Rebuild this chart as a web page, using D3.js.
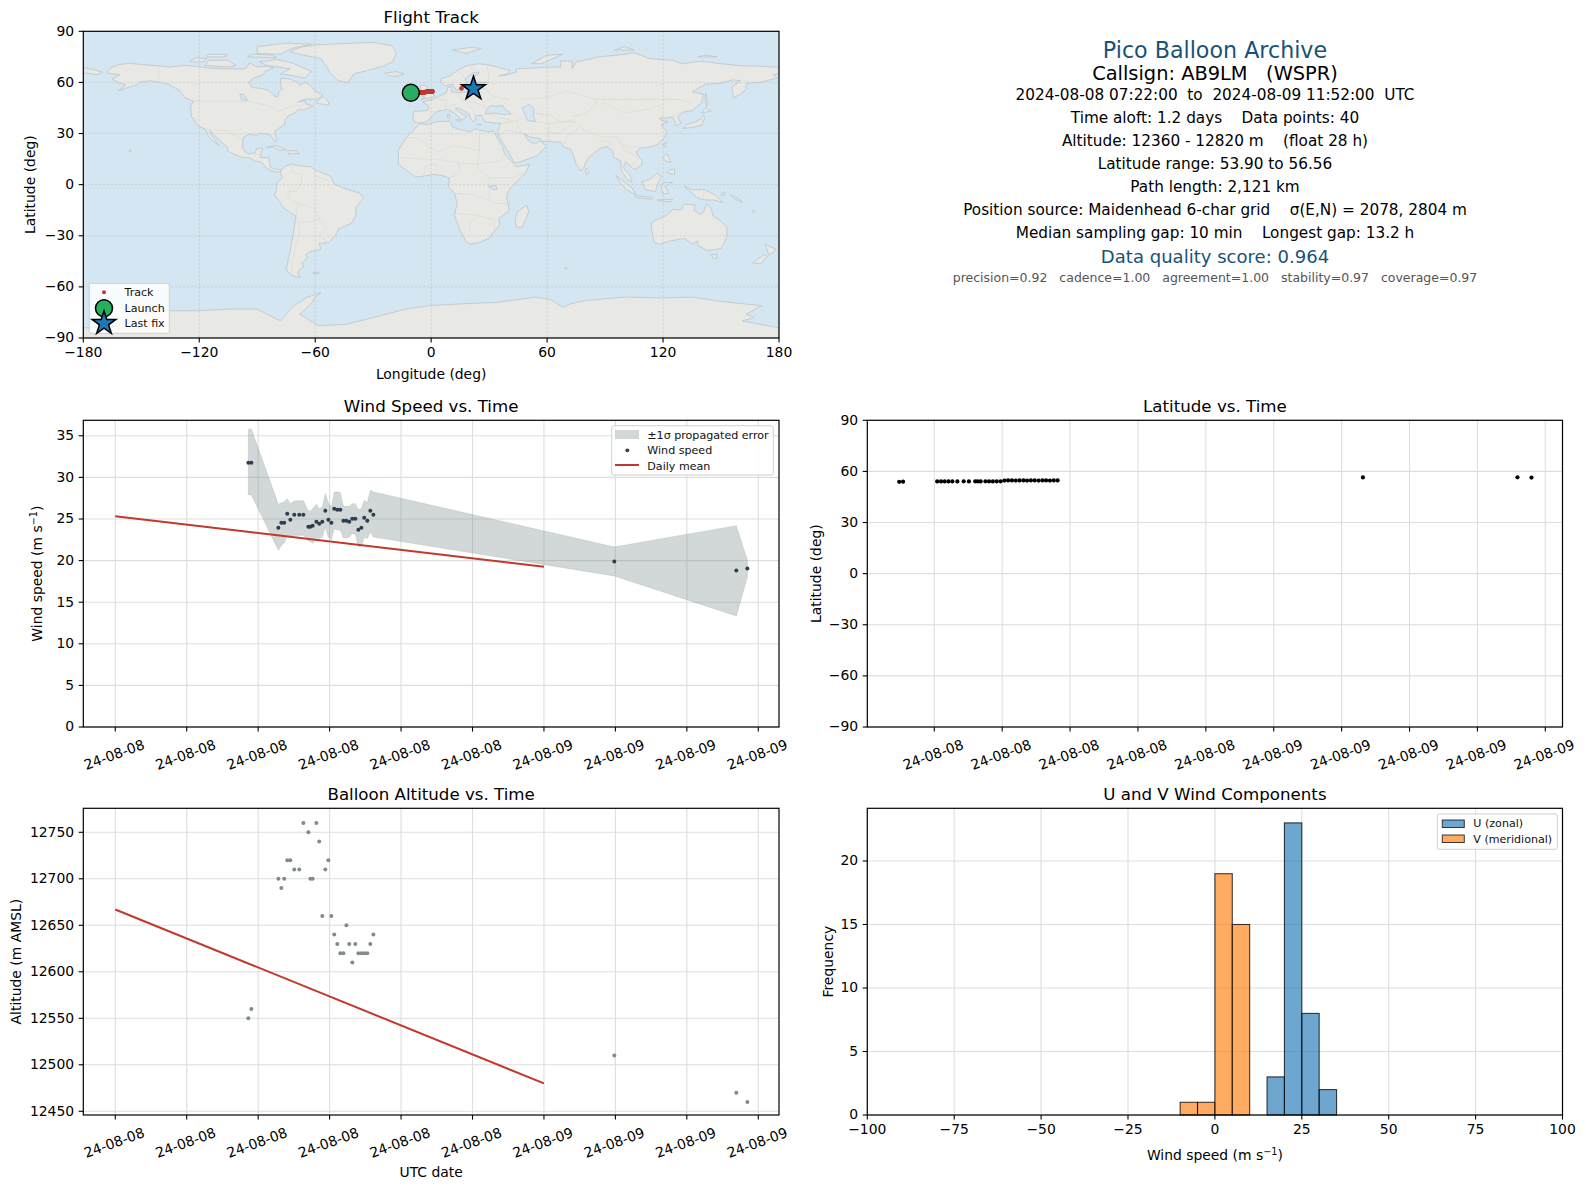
<!DOCTYPE html>
<html>
<head>
<meta charset="utf-8">
<script src="https://cdn.jsdelivr.net/npm/d3@7"></script>
<style>
   html, body { margin: 0; padding: 0; background: #fff; }
   svg { display: block; font-family: "DejaVu Sans", sans-serif; fill: #000; }
   .axis .domain { stroke: none; }
   .axis line { stroke: #000; stroke-width: 1.1; }
   .axis text { font-size: 13.9px; fill: #000; font-family: "DejaVu Sans", sans-serif; }
   .grid line { stroke: #dedede; stroke-width: 1.1; }
   .frame { fill: none; stroke: #000; stroke-width: 1.2; }
   .title { font-size: 16.67px; text-anchor: middle; }
   .label { font-size: 13.9px; text-anchor: middle; }
   .legendBox { fill: #fff; fill-opacity: 0.85; stroke: #d0d0d0; stroke-width: 1; }
   .legendText { font-size: 11.1px; fill: #111; }
   .info { text-anchor: middle; font-size: 15.28px; white-space: pre; }
</style>
</head>
<body>
<svg id="chart" width="1586" height="1189"></svg>
<script>
const WIDTH = 1586, HEIGHT = 1189;

// hours since 2024-08-08 00:00 UTC
const flightHours = [7.45, 7.62, 9.13, 9.30, 9.46, 9.63, 9.80, 10.02, 10.30, 10.53, 10.81, 10.92, 11.05,
   11.26, 11.42, 11.59, 11.76, 11.93, 12.10, 12.26, 12.43, 12.60, 12.77, 12.94, 13.10, 13.27, 13.44,
   13.61, 13.78, 13.94, 14.11, 14.28, 14.45, 27.94, 34.77, 35.39];
const windSpeed = [31.77, 31.77, 23.96, 24.56, 24.56, 25.64, 24.92, 25.52, 25.52, 25.52, 24.08, 24.08, 24.2,
   24.68, 24.44, 24.68, 26.0, 24.92, 24.56, 26.24, 26.12, 26.12, 24.8, 24.8, 24.68, 25.04, 25.04,
   23.72, 23.96, 25.16, 24.8, 26.0, 25.52, 19.88, 18.8, 19.04];
const windUpper = [35.78, 35.78, 26.76, 26.96, 27.08, 27.44, 26.84, 27.16, 27.2, 27.2, 25.92, 25.96, 26.24,
   26.76, 26.24, 26.44, 28.05, 26.92, 26.44, 28.25, 28.25, 28.17, 26.52, 26.52, 26.52, 26.84, 26.84,
   26.12, 26.24, 27.24, 26.92, 28.45, 28.25, 21.64, 24.2, 20.04];
const windLower = [27.89, 27.89, 21.23, 21.84, 22.12, 23.04, 22.72, 23.04, 23.04, 23.04, 22.36, 22.32, 22.04,
   22.76, 22.64, 22.84, 24.04, 22.76, 22.52, 23.84, 23.72, 23.64, 22.72, 22.72, 22.84, 23.24, 23.16,
   21.64, 21.72, 22.84, 22.64, 23.44, 22.84, 18.15, 13.35, 18.03];
const altitude = [12550, 12560, 12700, 12690, 12700, 12720, 12720, 12710, 12710, 12760, 12750, 12700, 12700,
   12760, 12740, 12660, 12710, 12720, 12660, 12640, 12630, 12620, 12620, 12650, 12630, 12610, 12630,
   12620, 12620, 12620, 12620, 12630, 12640, 12510, 12470, 12460];
const latitude = [53.9, 54.0, 54.1, 54.1, 54.1, 54.1, 54.1, 54.1, 54.2, 54.1, 54.2, 54.1, 54.1,
   54.2, 54.1, 54.1, 54.2, 54.2, 54.6, 54.7, 54.7, 54.6, 54.7, 54.7, 54.6, 54.7, 54.7,
   54.6, 54.7, 54.7, 54.6, 54.7, 54.7, 56.5, 56.56, 56.4];
const longitude = [-10.5, -10.1, -7.9, -7.5, -7.2, -6.9, -6.6, -6.2, -5.8, -5.5, -5.1, -4.8, -4.5,
   -4.2, -3.9, -3.6, -3.2, -2.9, -2.5, -2.2, -1.8, -1.4, -1.0, -0.7, -0.4, -0.1, 0.1,
   0.3, 0.4, 0.5, 0.6, 0.6, 0.6, 15.7, 20.8, 21.9];

const meanHours = [0, 24];
const meanWind = [25.34, 19.27];
const meanAltitude = [12667, 12480];

const windTickHours = [0, 4, 8, 12, 16, 20, 24, 28, 32, 36];
const latTickHours = [9, 12, 15, 18, 21, 24, 27, 30, 33, 36];

const uBinEdges = [15, 20, 25, 30, 35];
const uCounts = [3, 23, 8, 2];
const vBinEdges = [-10, -5, 0, 5, 10];
const vCounts = [1, 1, 19, 15];

const infoLines = [
   '2024-08-08 07:22:00  to  2024-08-09 11:52:00  UTC',
   'Time aloft: 1.2 days    Data points: 40',
   'Altitude: 12360 - 12820 m    (float 28 h)',
   'Latitude range: 53.90 to 56.56',
   'Path length: 2,121 km',
   'Position source: Maidenhead 6-char grid    \u03c3(E,N) = 2078, 2804 m',
   'Median sampling gap: 10 min    Longest gap: 13.2 h'
];

// coarse coastlines, [lon, lat]
const land = [
   // north america
   [[-168,65.5],[-166,68.3],[-162,70.3],[-156.5,71.3],[-150,70.5],[-141,69.7],[-135,69],[-128,70],[-124,69.7],[-115,68.5],[-108,68],[-101,68],[-96,68],[-94,71.5],[-90,69],[-85,69.5],[-81.5,68.5],[-86,66.5],[-87,64.5],[-92,62.5],[-94.5,60],[-92.5,57],[-88,56.5],[-84,55.2],[-82,53],[-80,51.3],[-79,52],[-79,54.5],[-77,56],[-78,58.5],[-78,62.5],[-73,62],[-70,60.5],[-68,58.3],[-65,60],[-62,57.5],[-60,55],[-56,52.5],[-59,50.2],[-65,50.2],[-69,48.5],[-65,49],[-65,47.5],[-61,46],[-65.5,44],[-69,44],[-70.5,42],[-74,40.5],[-75.5,38],[-76,35],[-79,33],[-81,31],[-80,27],[-80.5,25.2],[-82,27],[-83,29],[-85,29.7],[-89,30.2],[-90,29],[-94,29.5],[-97,28],[-97.5,25],[-97.8,22],[-96,19],[-94,18],[-91,18.7],[-90.5,21],[-87,21.5],[-88,18],[-88.5,16],[-84,15.8],[-83.5,12],[-83,10],[-80,9],[-77.5,8.7],[-78,7.5],[-80,7.3],[-83,8.2],[-85.5,10],[-87.5,13],[-91.5,14],[-94.5,16],[-97,15.8],[-101.5,17.5],[-105,19.5],[-105.5,22],[-109,25.5],[-112.5,29.5],[-114.7,31.5],[-112.5,27],[-109.8,23],[-112,24.7],[-115,28],[-117,32.5],[-120.5,34.5],[-124,40],[-124.5,46],[-123,49],[-127.5,51],[-130,55],[-135,58.5],[-140,60],[-146,61],[-151,60],[-152,58.5],[-157,57],[-162,55],[-158,58.5],[-162,60],[-165,62],[-161,64.5]],
   // greenland and arctic canada
   [[-73,78],[-68,80.5],[-60,82],[-45,82.8],[-30,83.5],[-20,81.5],[-18,77],[-20,72],[-25,69.5],[-33,67],[-40,65],[-43,60],[-48,61],[-52,65],[-54,69],[-57,74],[-66,76]],
   [[-80,73.5],[-72,71.5],[-67,69],[-62,66.5],[-65,62.5],[-72,64],[-78,65],[-73,68],[-85,70],[-89,72]],
   [[-117,70],[-105,69],[-101,70],[-105,73],[-115,73]],
   [[-125,72],[-118,72],[-116,74],[-122,74.5]],
   [[-90,77],[-78,76.5],[-72,80],[-62,82.5],[-75,83],[-90,81]],
   [[-95,75],[-80,74.5],[-82,76],[-93,76.5]],
   [[-116,75],[-106,75],[-106,76.5],[-116,76.5]],
   [[-59,47.7],[-53,46.7],[-53,48.5],[-56,51.5],[-59,49]],
   [[-85,22],[-80,23],[-75,20.5],[-78,20],[-82,22]],
   [[-74,20],[-69,19.8],[-68.5,18.3],[-74,18]],
   [[-156.2,20.7],[-155,19.8],[-155.6,19],[-156,19.6]],
   // south america
   [[-77.5,8.5],[-75,11],[-72,12],[-68,11],[-62,10.5],[-60,8.5],[-52,5],[-50,0],[-44,-2.5],[-37,-5],[-35,-8],[-39,-13.5],[-39,-18],[-41,-22.5],[-48,-26],[-49,-29],[-53,-34],[-58,-34.5],[-57,-38],[-62,-39],[-65,-41],[-64,-43],[-67,-46],[-66,-48],[-69,-51],[-68,-54.5],[-72,-53.5],[-75,-50],[-73.5,-42],[-71.5,-30],[-70,-18.5],[-76,-14],[-81,-6],[-80,-2.5],[-80,1],[-77,4],[-78,7.5]],
   [[-61,-51.5],[-58,-51.3],[-58.5,-52.3],[-61,-52.2]],
   // africa
   [[-6,35.8],[-2,35.2],[3,37],[10,37.3],[11,33.8],[15,32.3],[20,31],[23,32.7],[29,31],[32.5,31.3],[34,28],[37,22],[38,18],[43,12],[44,10.5],[51,12],[49,7],[44,1.5],[40,-3.5],[39,-7],[40.5,-15],[35,-20],[35.5,-24],[32.7,-27],[30,-31.5],[25,-34],[20,-34.8],[18,-33],[15,-27],[12,-18],[13.5,-11],[12,-5],[9,-1],[9.5,4],[5,5.5],[1,6],[-4,5],[-8,4.5],[-13,8.5],[-17,12],[-17,20],[-13,27.5],[-9.5,31.5]],
   [[49.5,-12],[50.5,-16],[47,-25],[44,-25],[43.5,-21],[44.5,-16]],
   // eurasia
   [[-9,37],[-9.5,39],[-9,43],[-2,43.5],[-1,46],[-4.5,48.5],[1,50],[4,52],[8,54],[8.5,57],[10.5,57.5],[10.5,54.5],[14,54],[19,54.5],[21,57],[24,57.5],[24,59.5],[30,60],[23,60],[21,61],[22,63],[25,65.5],[22,65.8],[17.5,62],[18.5,60],[16,56.5],[13,55.5],[11,59],[7,58],[5,60],[5,62],[10,64],[14,67.5],[19,70],[25,71],[31,70],[41,67],[40,65],[35,64],[38,64],[44,66],[44,68],[54,68.5],[60,69],[67,69],[67,72.5],[73,72.5],[73,68],[75,72],[81,73.5],[87,75],[100,76.5],[105,77.5],[113,74],[125,73],[130,71],[140,72.5],[150,71],[160,69.7],[170,69.5],[178,69],[180,68.8],[180,65],[177,64.5],[179,62.5],[170,60],[163,59.5],[163,56],[160,53],[156.5,51],[155.5,57],[160,61],[156,61.5],[150,59.5],[142,59],[135,54.5],[141,53],[140,48],[135,43.5],[130,42.5],[127.5,39.5],[129.5,36],[126.5,34.5],[126,37.5],[125,39.7],[121.5,39],[118,39],[119.5,37.5],[122.5,37],[119,35],[122,31],[121,28],[117,23.5],[113,22],[108,21.5],[106,19],[109,14],[109,11.5],[105,8.7],[103,11],[100.5,13.5],[99.5,10],[103,5],[104,1.5],[101.5,3],[98.5,8],[98,14],[94.5,16],[94,19.5],[91,22.5],[87,21],[82,16.5],[80,13],[79,10],[77.5,8],[75,12],[73,19],[72,21],[69,22],[67,25],[61,25.3],[57,25.5],[56.5,27],[51,28],[48,30],[50,26.5],[51.5,25],[54,24],[56.3,26],[59.5,22.5],[55,17],[45,13],[43,13],[39,21],[35,28],[34.5,31.5],[36,36],[32,36.2],[27.5,37],[26.5,39.5],[26,40.8],[23,40.5],[23,38],[22,36.7],[20,39.5],[19.5,41.7],[14,45],[12.5,44.5],[16,41.5],[18.5,40],[16,38],[12,42],[8.5,44.2],[3,43],[0,39.5],[-2,37],[-5.5,36]],
   [[-180,68.8],[-175,67.5],[-170,66],[-173,64.5],[-178,65.5],[-180,65]],
   [[-5.5,50],[1.3,51.2],[1.5,52.8],[-1.5,55],[-2,57.5],[-3.5,58.6],[-6,58],[-5,55],[-3,54],[-5,52],[-3,51.3]],
   [[-10,52],[-6,52.2],[-6,54.5],[-8,55.2],[-10,54]],
   [[-24,65.5],[-18,66.3],[-14,65],[-18,63.5],[-22.5,64]],
   [[11,79],[20,80.5],[26,80],[18,77]],
   [[52,71],[57,71],[68,76.5],[60,76]],
   [[95,79],[105,79],[100,81]],
   [[138,75],[148,75],[142,76]],
   [[142,54],[143,49],[142.5,46],[141.8,50]],
   [[130,33],[135,33.5],[140,35],[141.5,39],[141,41],[139.5,38.5],[136,36.5],[132,35]],
   [[140,42],[145,43.3],[142,45.3]],
   [[120.2,23],[121,22],[122,25],[121,25]],
   [[120,16],[122,18.5],[124,13],[121,14]],
   [[122,7],[126,6],[126,9.5],[123.5,8.5]],
   [[80,9.7],[82,7.5],[80.5,6],[79.8,8]],
   [[12.5,38],[15.5,38],[15,36.7]],
   [[8.5,41],[9.7,41],[9.5,39],[8.5,39]],
   [[23.5,35.5],[26,35.3],[25,35]],
   // indonesia and pacific
   [[109,1.5],[113,3],[117,7],[119,5],[117.5,1],[116,-4],[111,-3]],
   [[95.5,5.5],[104,-2],[106,-6],[101,-3],[98,1]],
   [[105.5,-6.5],[114.5,-7.5],[114.5,-8.6],[106,-7.7]],
   [[120,1],[125,1.5],[121,-1],[123,-5],[120,-5.5],[119,-2]],
   [[131,-1],[135,-3],[141,-2.7],[147,-6],[151,-10.5],[146,-9],[142,-9],[138,-8],[134,-4]],
   [[117,-9],[125,-8.5],[124,-10],[118,-9.5]],
   [[150,-5.5],[152,-4.2],[152,-6],[150,-6.3]],
   [[155,-6],[160,-9],[161,-10.5],[157,-8.5]],
   [[166,-15],[167.5,-15.5],[167,-16.5]],
   // australia and new zealand
   [[114,-22],[114,-26],[115.5,-34],[118,-35],[124,-33],[131,-31.5],[135,-34.8],[138,-33],[138,-35.7],[143,-38.7],[147,-38],[150,-37.5],[153,-31],[153,-25],[149,-20.5],[146,-18.5],[145,-14.5],[142.5,-11],[141,-16],[139.5,-17.5],[136,-15],[136.8,-12],[131,-11.5],[129,-15],[125,-14.5],[122,-18],[117,-20.5]],
   [[145,-41],[148,-41],[147.5,-43.5],[146,-43.5]],
   [[173,-35],[178.5,-38],[175,-41.5],[174,-39]],
   [[172,-41],[174,-42],[170.5,-46.5],[166.5,-46]],
   [[69,-49],[70.3,-49],[70,-49.7]],
   // antarctica
   [[-180,-84],[-165,-84],[-155,-79],[-147,-75],[-135,-74],[-120,-74],[-104,-73],[-90,-73],[-78,-80],[-75,-76],[-71,-71],[-64,-66],[-57,-63.5],[-60,-66],[-62,-70],[-68,-76],[-58.6,-82.7],[-44,-82],[-30,-78],[-13,-73],[-1,-71],[15,-70],[35,-69],[54,-66],[62,-67.5],[68,-72],[72,-70],[80,-68],[100,-66],[120,-66.5],[135,-66],[150,-68.5],[162,-70],[171,-71],[163,-76],[167,-78],[161,-80],[180,-84],[180,-90],[-180,-90]]
];

// seas drawn back over the land
const inlandSeas = [
   [[28,41.5],[33,42],[38,41],[41.5,41.7],[38,44.5],[37,46.5],[33,46],[31,46.5],[28.5,44]],
   [[47,45],[51,47],[53,45],[53,40],[54,37],[50,37.5],[49,40]],
   [[-95,49.5],[-97,53],[-99,53],[-98,50]],
   [[29.5,-1],[33.5,-0.5],[34,-3],[32,-2.8]]
];

const borders = [
   [[-141,69.7],[-141,60]], [[-123,49],[-95,49],[-83,46],[-79,43],[-75,45],[-69,47],[-67,45]],
   [[-117,32.5],[-106,31.7],[-97.5,26]], [[-92,14.5],[-91,17.5],[-88,18]],
   [[-70,-18.5],[-69,-22],[-68,-28],[-70,-35],[-72,-45],[-72,-52]], [[-70,-18.5],[-69,-11],[-74,-8],[-74,-4],[-70,-4],[-67,1]],
   [[-72,12],[-72,7],[-67,6],[-67,1]], [[-60,8.5],[-60,5],[-52,2]], [[-58,-20],[-54,-25],[-58,-30],[-53,-34]], [[-69,-11],[-60,-14],[-58,-20],[-62,-22],[-68,-22]],
   [[-13,27.5],[-8.7,27.5],[-4,25],[3,19],[12,23],[25,20],[25,31]], [[-17,16],[-5,15],[3,15],[14,13],[24,12],[36,14],[38,18]],
   [[9.5,4],[15,8],[14,13]], [[25,20],[24,10],[30,4],[34,4],[42,4],[49,7]], [[12,-5],[22,-6],[30,-9],[34,-11],[40.5,-11]],
   [[13.5,-17],[24,-18],[33,-21],[32.7,-27]], [[20,-28],[20,-22],[24,-18]], [[-4,5],[-3,11],[3,12],[2.5,6]], [[30,4],[30,-9]],
   [[-2,43.5],[3,42.5]], [[2,51],[8,49],[7,44]], [[6,51],[7,54]], [[14,54],[15,51],[18,49],[24,48],[29,45]], [[24,57.5],[28,56],[32,52],[40,50],[38,47]],
   [[29,70],[30,62],[28,60]], [[20,69],[25,66]], [[14,67],[18,62]], [[13,47],[7,46]],[[20,46],[23,41]],
   [[28,41.5],[44,37],[47,30]], [[36,36],[42,37]], [[35,29],[39,32],[47,30],[48,30]], [[44,37],[46,39],[49,38]], [[61,25.3],[61,31],[61,36],[54,37]], [[61,36],[71,37],[75,37]],
   [[61,31],[66,30],[71,34],[75,37]], [[53,42],[61,41],[67,37],[74,38]], [[47,50],[60,51],[70,55],[85,50]], [[53,45],[56,41]], [[73,40],[80,42],[85,47],[85,50]],
   [[85,50],[98,50],[107,50],[118,50],[127,50],[135,48]], [[88,49],[100,42],[111,44],[119,47]], [[75,37],[79,32],[88,28],[97,28],[98,24],[102,22],[106,22.5],[108,21.5]],
   [[69,24],[71,29],[75,32],[78,35]], [[88,26],[92,25],[94,20]], [[98,24],[100,20],[105,18],[107,15],[103,11]], [[124,40],[130,42.5]],
   [[141,-2.7],[141,-9]], [[109,1.5],[115,4],[117,4]]
];

const svg = d3.select('#chart');
const fmt = d3.format('d');
const minus = (s) => String(s).replace('-', '\u2212');
const hourToDate = (h) => new Date(Date.UTC(2024, 7, 8) + h * 3600000);
const dateFmt = d3.utcFormat('%y-%m-%d');

function makePanel(box) {
   let panel = {};
   panel.box = box;
   panel.root = svg.append('g');
   panel.grid = panel.root.append('g').attr('class', 'grid');
   panel.plot = panel.root.append('g');
   return panel;
}

function drawGrid(panel, x, y, xTicks, yTicks) {
   let box = panel.box;
   panel.grid.selectAll('.gx').data(xTicks).join('line').attr('class', 'gx')
      .attr('x1', d => x(d)).attr('x2', d => x(d)).attr('y1', box.top).attr('y2', box.bottom);
   panel.grid.selectAll('.gy').data(yTicks).join('line').attr('class', 'gy')
      .attr('x1', box.left).attr('x2', box.right).attr('y1', d => y(d)).attr('y2', d => y(d));
}

function drawAxes(panel, x, y, xTicks, yTicks, xFormat, yFormat, rotate) {
   let box = panel.box;
   let xAxis = panel.root.append('g').attr('class', 'axis')
      .attr('transform', `translate(0,${box.bottom})`)
      .call(d3.axisBottom(x).offset(0).tickValues(xTicks).tickSize(4.6).tickPadding(4.6).tickFormat(xFormat));
   panel.root.append('g').attr('class', 'axis')
      .attr('transform', `translate(${box.left},0)`)
      .call(d3.axisLeft(y).offset(0).tickValues(yTicks).tickSize(4.6).tickPadding(4.6).tickFormat(yFormat));
   if (rotate) {
      xAxis.selectAll('text')
         .attr('text-anchor', 'middle')
         .attr('dy', null)
         .attr('y', 0)
         .attr('transform', 'translate(-0.8,28.5) rotate(-20)')
         .attr('dominant-baseline', 'middle');
   }
   panel.root.append('rect').attr('class', 'frame')
      .attr('x', box.left).attr('y', box.top)
      .attr('width', box.right - box.left).attr('height', box.bottom - box.top);
}

function addTitle(panel, text) {
   let box = panel.box;
   panel.root.append('text').attr('class', 'title')
      .attr('x', (box.left + box.right) / 2).attr('y', box.top - 8).text(text);
}

function addXLabel(panel, text, yPos, sup) {
   let box = panel.box;
   let label = panel.root.append('text').attr('class', 'label')
      .attr('x', (box.left + box.right) / 2).attr('y', yPos).text(text);
   if (sup) addUnit(label);
}

function addYLabel(panel, text, xPos, sup) {
   let box = panel.box;
   let label = panel.root.append('text').attr('class', 'label')
      .attr('transform', `translate(${xPos},${(box.top + box.bottom) / 2}) rotate(-90)`).text(text);
   if (sup) addUnit(label);
}

function addUnit(label) {
   label.append('tspan').attr('dy', -4.8).style('font-size', '9.7px').text('\u22121');
   label.append('tspan').attr('dy', 4.8).text(')');
}

function drawMap() {
   let box = {left: 83.3, right: 779, top: 31.3, bottom: 338};
   let panel = makePanel(box);
   let x = d3.scaleLinear().domain([-180, 180]).range([box.left, box.right]);
   let y = d3.scaleLinear().domain([-90, 90]).range([box.bottom, box.top]);
   let lonTicks = d3.range(-180, 181, 60), latTicks = d3.range(-90, 91, 30);
   let ring = d3.line().x(d => x(d[0])).y(d => y(d[1])).curve(d3.curveLinearClosed);
   let path = d3.line().x(d => x(d[0])).y(d => y(d[1]));

   svg.append('clipPath').attr('id', 'mapClip').append('rect')
      .attr('x', box.left).attr('y', box.top)
      .attr('width', box.right - box.left).attr('height', box.bottom - box.top);
   let map = panel.plot.append('g').attr('clip-path', 'url(#mapClip)');
   map.append('rect').attr('x', box.left).attr('y', box.top)
      .attr('width', box.right - box.left).attr('height', box.bottom - box.top)
      .attr('fill', '#d4e6f1');
   map.selectAll('.land').data(land).join('path').attr('class', 'land')
      .attr('d', ring).attr('fill', '#e8e8e4').attr('stroke', '#bcc5c9').attr('stroke-width', 0.8);
   map.selectAll('.sea').data(inlandSeas).join('path').attr('class', 'sea')
      .attr('d', ring).attr('fill', '#d4e6f1').attr('stroke', '#bcc5c9').attr('stroke-width', 0.8);
   map.selectAll('.border').data(borders).join('path').attr('class', 'border')
      .attr('d', path).attr('fill', 'none').attr('stroke', '#d8d8d4').attr('stroke-width', 0.6);
   map.selectAll('.gx').data(lonTicks).join('line').attr('class', 'gx')
      .attr('x1', d => x(d)).attr('x2', d => x(d)).attr('y1', box.top).attr('y2', box.bottom)
      .attr('stroke', '#aaa').attr('stroke-opacity', 0.6).attr('stroke-width', 0.6).attr('stroke-dasharray', '2,2');
   map.selectAll('.gy').data(latTicks).join('line').attr('class', 'gy')
      .attr('x1', box.left).attr('x2', box.right).attr('y1', d => y(d)).attr('y2', d => y(d))
      .attr('stroke', '#aaa').attr('stroke-opacity', 0.6).attr('stroke-width', 0.6).attr('stroke-dasharray', '2,2');

   map.selectAll('.track').data(flightHours).join('circle').attr('class', 'track')
      .attr('cx', (d, i) => x(longitude[i])).attr('cy', (d, i) => y(latitude[i]))
      .attr('r', 2.3).attr('fill', '#c0392b');
   map.append('circle')
      .attr('cx', x(longitude[0])).attr('cy', y(latitude[0])).attr('r', 8.5)
      .attr('fill', '#27ae60').attr('stroke', '#000').attr('stroke-width', 1.5);
   map.append('path')
      .attr('d', d3.symbol(d3.symbolStar, 175)())
      .attr('transform', `translate(${x(longitude[35])},${y(latitude[35])})`)
      .attr('fill', '#1f77b4').attr('stroke', '#000').attr('stroke-width', 1.5);

   drawAxes(panel, x, y, lonTicks, latTicks, d => minus(d), d => minus(d), false);
   addTitle(panel, 'Flight Track');
   addXLabel(panel, 'Longitude (deg)', 379);
   addYLabel(panel, 'Latitude (deg)', 35);

   let legend = panel.root.append('g');
   legend.append('rect').attr('class', 'legendBox').attr('x', 89.3).attr('y', 283.3)
      .attr('width', 80).attr('height', 50).attr('rx', 2);
   legend.append('circle').attr('cx', 104).attr('cy', 292.3).attr('r', 2).attr('fill', '#c0392b');
   legend.append('circle').attr('cx', 104).attr('cy', 308.3).attr('r', 8.5)
      .attr('fill', '#27ae60').attr('stroke', '#000').attr('stroke-width', 1.5);
   legend.append('path').attr('d', d3.symbol(d3.symbolStar, 175)())
      .attr('transform', 'translate(104,323.3)')
      .attr('fill', '#1f77b4').attr('stroke', '#000').attr('stroke-width', 1.5);
   [['Track', 296], ['Launch', 312], ['Last fix', 326.7]].forEach(d => {
      legend.append('text').attr('class', 'legendText').attr('x', 124.5).attr('y', d[1]).text(d[0]);
   });
}

function drawInfo() {
   const cx = 1215;
   svg.append('text').attr('class', 'info').attr('x', cx).attr('y', 58.3)
      .style('font-size', '22.2px').style('fill', '#1a5276').text('Pico Balloon Archive');
   svg.append('text').attr('class', 'info').attr('x', cx).attr('y', 80)
      .style('font-size', '19.4px').text('Callsign: AB9LM   (WSPR)');
   const baselines = [100, 123.3, 146, 169, 192.3, 215.3, 238.3];
   svg.selectAll('.infoLine').data(infoLines).join('text').attr('class', 'info infoLine')
      .attr('x', cx).attr('y', (d, i) => baselines[i]).text(d => d);
   svg.append('text').attr('class', 'info').attr('x', cx).attr('y', 263.3)
      .style('font-size', '18.06px').style('fill', '#1a5276').text('Data quality score: 0.964');
   svg.append('text').attr('class', 'info').attr('x', cx).attr('y', 281.7)
      .style('font-size', '12.5px').style('fill', '#555')
      .text('precision=0.92   cadence=1.00   agreement=1.00   stability=0.97   coverage=0.97');
}

function drawWind() {
   let box = {left: 83.3, right: 779, top: 420.3, bottom: 727};
   let panel = makePanel(box);
   let x = d3.scaleUtc().domain([hourToDate(-1.79), hourToDate(37.16)]).range([box.left, box.right]);
   let y = d3.scaleLinear().domain([0, 36.86]).range([box.bottom, box.top]);
   let xTicks = windTickHours.map(hourToDate), yTicks = d3.range(0, 36, 5);
   drawGrid(panel, x, y, xTicks, yTicks);

   let band = d3.area().x((d, i) => x(hourToDate(d))).y0((d, i) => y(windLower[i])).y1((d, i) => y(windUpper[i]));
   panel.plot.append('path').attr('d', band(flightHours))
      .attr('fill', '#7f8c8d').attr('fill-opacity', 0.35).attr('stroke', '#7f8c8d').attr('stroke-opacity', 0.2);
   panel.plot.selectAll('.pt').data(flightHours).join('circle').attr('class', 'pt')
      .attr('cx', d => x(hourToDate(d))).attr('cy', (d, i) => y(windSpeed[i])).attr('r', 2).attr('fill', '#2c3e50');
   let mean = d3.line().x(d => x(hourToDate(d))).y((d, i) => y(meanWind[i]));
   panel.plot.append('path').attr('d', mean(meanHours)).attr('fill', 'none').attr('stroke', '#c0392b').attr('stroke-width', 2);

   drawAxes(panel, x, y, xTicks, yTicks, dateFmt, fmt, true);
   addTitle(panel, 'Wind Speed vs. Time');
   addYLabel(panel, 'Wind speed (m s', 41.5, true);

   let legend = panel.root.append('g');
   legend.append('rect').attr('class', 'legendBox').attr('x', 611.7).attr('y', 425.7)
      .attr('width', 161.6).attr('height', 49.3).attr('rx', 2);
   legend.append('rect').attr('x', 615).attr('y', 430).attr('width', 24).attr('height', 9)
      .attr('fill', '#7f8c8d').attr('fill-opacity', 0.35);
   legend.append('circle').attr('cx', 627.3).attr('cy', 450.3).attr('r', 1.9).attr('fill', '#2c3e50');
   legend.append('line').attr('x1', 615).attr('x2', 639).attr('y1', 465).attr('y2', 465)
      .attr('stroke', '#c0392b').attr('stroke-width', 2);
   [['\u00b11\u03c3 propagated error', 439], ['Wind speed', 454.3], ['Daily mean', 470]].forEach(d => {
      legend.append('text').attr('class', 'legendText').attr('x', 647.3).attr('y', d[1]).text(d[0]);
   });
}

function drawLatitude() {
   let box = {left: 867.3, right: 1562.5, top: 420.3, bottom: 727};
   let panel = makePanel(box);
   let x = d3.scaleUtc().domain([hourToDate(6.04), hourToDate(36.76)]).range([box.left, box.right]);
   let y = d3.scaleLinear().domain([-90, 90]).range([box.bottom, box.top]);
   let xTicks = latTickHours.map(hourToDate), yTicks = d3.range(-90, 91, 30);
   drawGrid(panel, x, y, xTicks, yTicks);
   panel.plot.selectAll('.pt').data(flightHours).join('circle').attr('class', 'pt')
      .attr('cx', d => x(hourToDate(d))).attr('cy', (d, i) => y(latitude[i])).attr('r', 2.1).attr('fill', '#000');
   drawAxes(panel, x, y, xTicks, yTicks, dateFmt, d => minus(d), true);
   addTitle(panel, 'Latitude vs. Time');
   addYLabel(panel, 'Latitude (deg)', 820.5);
}

function drawAltitude() {
   let box = {left: 83.3, right: 779, top: 808.3, bottom: 1115};
   let panel = makePanel(box);
   let x = d3.scaleUtc().domain([hourToDate(-1.79), hourToDate(37.16)]).range([box.left, box.right]);
   let y = d3.scaleLinear().domain([12446, 12775.8]).range([box.bottom, box.top]);
   let xTicks = windTickHours.map(hourToDate), yTicks = d3.range(12450, 12751, 50);
   drawGrid(panel, x, y, xTicks, yTicks);
   panel.plot.selectAll('.pt').data(flightHours).join('circle').attr('class', 'pt')
      .attr('cx', d => x(hourToDate(d))).attr('cy', (d, i) => y(altitude[i])).attr('r', 2).attr('fill', '#7f8c8d');
   let mean = d3.line().x(d => x(hourToDate(d))).y((d, i) => y(meanAltitude[i]));
   panel.plot.append('path').attr('d', mean(meanHours)).attr('fill', 'none').attr('stroke', '#c0392b').attr('stroke-width', 2);
   drawAxes(panel, x, y, xTicks, yTicks, dateFmt, fmt, true);
   addTitle(panel, 'Balloon Altitude vs. Time');
   addXLabel(panel, 'UTC date', 1177);
   addYLabel(panel, 'Altitude (m AMSL)', 20.5);
}

function drawHistogram() {
   let box = {left: 867.3, right: 1562.5, top: 808.3, bottom: 1115};
   let panel = makePanel(box);
   let x = d3.scaleLinear().domain([-100, 100]).range([box.left, box.right]);
   let y = d3.scaleLinear().domain([0, 24.15]).range([box.bottom, box.top]);
   let xTicks = d3.range(-100, 101, 25), yTicks = d3.range(0, 21, 5);
   drawGrid(panel, x, y, xTicks, yTicks);

   function bars(edges, counts, color) {
      panel.plot.append('g').selectAll('rect').data(counts).join('rect')
         .attr('x', (d, i) => x(edges[i])).attr('width', (d, i) => x(edges[i + 1]) - x(edges[i]))
         .attr('y', d => y(d)).attr('height', d => y(0) - y(d))
         .attr('fill', color).attr('fill-opacity', 0.65)
         .attr('stroke', '#000').attr('stroke-opacity', 0.75).attr('stroke-width', 1.1);
   }
   bars(uBinEdges, uCounts, '#1f77b4');
   bars(vBinEdges, vCounts, '#ff7f0e');

   drawAxes(panel, x, y, xTicks, yTicks, d => minus(d), fmt, false);
   addTitle(panel, 'U and V Wind Components');
   addXLabel(panel, 'Wind speed (m s', 1160, true);
   addYLabel(panel, 'Frequency', 832.5);

   let legend = panel.root.append('g');
   legend.append('rect').attr('class', 'legendBox').attr('x', 1437.3).attr('y', 814)
      .attr('width', 120).attr('height', 35.3).attr('rx', 2);
   [['U (zonal)', 820, 827.3, '#1f77b4'], ['V (meridional)', 835, 842.7, '#ff7f0e']].forEach(d => {
      legend.append('rect').attr('x', 1442.3).attr('y', d[1]).attr('width', 22).attr('height', 7.5)
         .attr('fill', d[3]).attr('fill-opacity', 0.65).attr('stroke', '#000').attr('stroke-opacity', 0.75);
      legend.append('text').attr('class', 'legendText').attr('x', 1473.3).attr('y', d[2]).text(d[0]);
   });
}

drawMap();
drawInfo();
drawWind();
drawLatitude();
drawAltitude();
drawHistogram();
</script>
</body>
</html>
